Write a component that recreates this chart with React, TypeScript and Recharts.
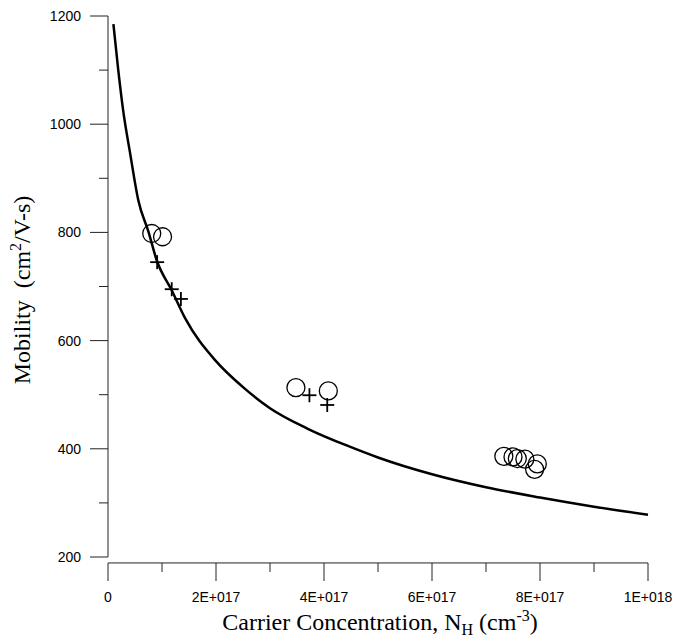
import React from 'react';
import { ComposedChart, Line, Scatter, XAxis, YAxis, ReferenceLine, Label } from 'recharts';

// axis ticks
const xTicks = [0, 1e17, 2e17, 3e17, 4e17, 5e17, 6e17, 7e17, 8e17, 9e17, 1e18];
const xTickLabels = ['0', '2E+017', '4E+017', '6E+017', '8E+017', '1E+018'];
const yTicks = [200, 300, 400, 500, 600, 700, 800, 900, 1000, 1100, 1200];

// fitted curve
const curveN = [
  1e16, 1.9e16, 2.8e16, 4.1e16, 5.6e16, 7.5e16, 9e16, 1.18e17, 1.43e17, 2e17, 2.5e17,
  3e17, 3.7e17, 4.5e17, 5e17, 6e17, 7e17, 8e17, 9e17, 1e18,
];
const curveMobility = [
  1185, 1100, 1026, 946, 860, 801, 749, 693, 641, 562, 514,
  475, 437, 403, 384, 353, 329, 310, 293, 278,
];

// measured points (circles)
const circleN = [0.81e17, 1.01e17, 3.48e17, 4.08e17, 7.33e17, 7.5e17, 7.58e17, 7.72e17, 7.9e17, 7.95e17];
const circleMobility = [798, 792, 513, 507, 386, 385, 382, 381, 362, 372];

// measured points (crosses)
const plusN = [0.91e17, 1.18e17, 1.35e17, 3.73e17, 4.06e17];
const plusMobility = [745, 695, 677, 499, 481];

const curve = curveN.map((n, i) => ({ n, mu: curveMobility[i] }));
const circles = circleN.map((n, i) => ({ n, mu: circleMobility[i] }));
const pluses = plusN.map((n, i) => ({ n, mu: plusMobility[i] }));

const AXIS = '#222';
const TICK_FONT = '"Liberation Sans", Arial, sans-serif';
const TITLE_FONT = '"Liberation Serif", "Times New Roman", serif';
const X_GAP = 6; // x axis sits a little below the plot

const XTick = ({ x, y, payload }: any) => {
  const k = Math.round(payload.value / 1e17);
  const major = k % 2 === 0;
  const top = y + X_GAP;
  return (
    <g>
      <line x1={x} x2={x} y1={top} y2={top + (major ? 18 : 9)} stroke={AXIS} strokeWidth={1} />
      {major && (
        <text x={x} y={top + 39} textAnchor="middle" fontFamily={TICK_FONT} fontSize={14} fill="#000">
          {xTickLabels[k / 2]}
        </text>
      )}
    </g>
  );
};

const YTick = ({ x, y, payload }: any) => {
  const major = payload.value % 200 === 0;
  return (
    <g>
      <line x1={x - (major ? 18 : 9)} x2={x} y1={y} y2={y} stroke={AXIS} strokeWidth={1} />
      {major && (
        <text x={x - 27} y={y + 5} textAnchor="end" fontFamily={TICK_FONT} fontSize={14} fill="#000">
          {payload.value}
        </text>
      )}
    </g>
  );
};

const YTitle = () => (
  <text
    x={30}
    y={290}
    transform="rotate(-90, 30, 290)"
    textAnchor="middle"
    fontFamily={TITLE_FONT}
    fontSize={24}
    fill="#000"
  >
    Mobility{'\u00a0\u00a0'}(cm
    <tspan dy={-9} fontSize={16}>2</tspan>
    <tspan dy={9}>/V-s)</tspan>
  </text>
);

const XTitle = () => (
  <text x={380} y={630} textAnchor="middle" fontFamily={TITLE_FONT} fontSize={24} fill="#000">
    Carrier Concentration, N
    <tspan dy={5} fontSize={16}>H</tspan>
    <tspan dy={-5}> (cm</tspan>
    <tspan dy={-9} fontSize={16}>-3</tspan>
    <tspan dy={9}>)</tspan>
  </text>
);

const Ring = ({ cx, cy }: any) => (
  <circle cx={cx} cy={cy} r={9} fill="none" stroke="#000" strokeWidth={1.3} />
);

const Cross = ({ cx, cy }: any) => (
  <g stroke="#000" strokeWidth={1.8}>
    <line x1={cx - 7} x2={cx + 7} y1={cy} y2={cy} />
    <line x1={cx} x2={cx} y1={cy - 7} y2={cy + 7} />
  </g>
);

export default function App() {
  return (
    <div style={{ position: 'absolute', left: 0, top: 0, background: '#fff' }}>
      <ComposedChart width={678} height={640} margin={{ top: 16, right: 30, left: 0, bottom: 0 }}>
        <XAxis
          type="number"
          dataKey="n"
          domain={[0, 1e18]}
          ticks={xTicks}
          interval={0}
          axisLine={false}
          tickLine={false}
          tickSize={0}
          tickMargin={0}
          tick={<XTick />}
          height={83}
        >
          <Label content={<XTitle />} />
        </XAxis>
        <YAxis
          type="number"
          dataKey="mu"
          domain={[200, 1200]}
          ticks={yTicks}
          interval={0}
          width={108}
          axisLine={{ stroke: AXIS, strokeWidth: 1 }}
          tickLine={false}
          tickSize={0}
          tickMargin={0}
          tick={<YTick />}
          allowDataOverflow
        >
          <Label content={<YTitle />} />
        </YAxis>
        <ReferenceLine y={189} ifOverflow="visible" stroke={AXIS} strokeWidth={1} />
        <Line
          data={curve}
          dataKey="mu"
          type="monotone"
          stroke="#000"
          strokeWidth={2.5}
          dot={false}
          activeDot={false}
          isAnimationActive={false}
        />
        <Scatter data={circles} dataKey="mu" shape={<Ring />} isAnimationActive={false} />
        <Scatter data={pluses} dataKey="mu" shape={<Cross />} isAnimationActive={false} />
      </ComposedChart>
    </div>
  );
}
